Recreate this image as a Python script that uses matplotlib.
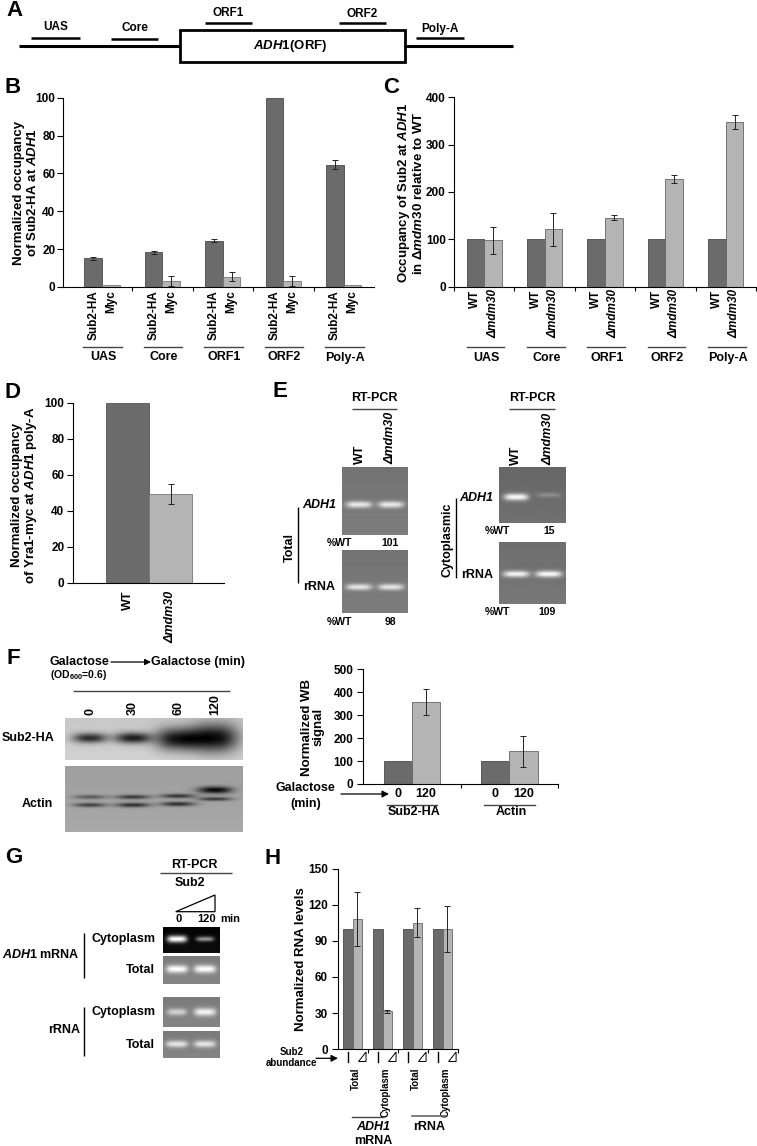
import numpy as np
import matplotlib
matplotlib.use('Agg')
import matplotlib.pyplot as plt
from matplotlib.patches import Polygon, Rectangle
from matplotlib.transforms import blended_transform_factory as blend

plt.rcParams['font.family'] = ['Liberation Sans', 'DejaVu Sans']
plt.rcParams['font.weight'] = 'bold'
plt.rcParams['mathtext.fontset'] = 'custom'
plt.rcParams['mathtext.it'] = 'Liberation Sans:italic:bold'
plt.rcParams['mathtext.rm'] = 'Liberation Sans:bold'
plt.rcParams['mathtext.bf'] = 'Liberation Sans:bold'
plt.rcParams['axes.linewidth'] = 0.8

# ---------------- data ----------------
regions = ['UAS', 'Core', 'ORF1', 'ORF2', 'Poly-A']
b_sub2 = [15.3, 18.3, 24.5, 100, 64.6]
b_sub2_err = [0.8, 0.7, 0.6, 0, 2.3]
b_myc = [0.8, 3.2, 5.4, 3.2, 0.8]
b_myc_err = [0, 2.5, 2.4, 2.5, 0]
b_ticks = [0, 20, 40, 60, 80, 100]

c_wt = [100, 100, 100, 100, 100]
c_mdm30 = [98, 121, 146, 228, 348]
c_mdm30_err = [29, 34, 6, 8, 15]
c_ticks = [0, 100, 200, 300, 400]

d_strains = ['WT', '\u0394mdm30']
d_values = [100, 49.2]
d_err = [0, 5.5]
d_ticks = [0, 20, 40, 60, 80, 100]

e_total_pct = ['101', '98']
e_cyto_pct = ['15', '109']

f_lanes = ['0', '30', '60', '120']
f_groups = ['Sub2-HA', 'Actin']
f_t0 = [100, 100]
f_t120 = [358, 143]
f_t120_err = [56, 67]
f_ticks = [0, 100, 200, 300, 400, 500]

h_labels = ['Total', 'Cytoplasm', 'Total', 'Cytoplasm']
h_low = [100, 100, 100, 100]
h_high = [108, 31.5, 105, 99.5]
h_high_err = [22.5, 1.5, 12, 19]
h_ticks = [0, 30, 60, 90, 120, 150]

# ---------------- figure ----------------
W, H = 757, 1146
fig = plt.figure(figsize=(W / 100, H / 100), dpi=100)
DARK, LIGHT, EDGE = '#6b6b6b', '#b4b4b4', '#4a4a4a'
FS = 8.5


def rect(x0, y0, x1, y1):
    return [x0 / W, 1 - y1 / H, (x1 - x0) / W, (y1 - y0) / H]


ov = fig.add_axes([0, 0, 1, 1], zorder=10)
ov.set_xlim(0, W)
ov.set_ylim(H, 0)
ov.axis('off')
ov.patch.set_alpha(0)


def T(x, y, s, size=9, ha='center', va='center', **kw):
    return ov.text(x, y, s, fontsize=size, ha=ha, va=va, fontweight='bold', **kw)


def L(x0, y0, x1, y1, lw=1.0, color='k', **kw):
    ov.plot([x0, x1], [y0, y1], color=color, lw=lw, solid_capstyle='butt', **kw)


def letter(x, y, s):
    ov.text(x, y, s, fontsize=16, fontweight='bold', ha='left', va='top')


def base_axes(r, ylim, ticks, tlen=4, pad=2):
    ax = fig.add_axes(rect(*r))
    ax.set_ylim(*ylim)
    ax.set_yticks(ticks)
    ax.tick_params(axis='y', direction='out', length=tlen, width=0.8, pad=pad, labelsize=FS)
    for s in ['top', 'right']:
        ax.spines[s].set_visible(False)
    ax.patch.set_alpha(0)
    return ax


def err(ax, x, v, e):
    x = np.asarray(x, float); v = np.asarray(v, float); e = np.asarray(e, float)
    m = e > 0
    ax.errorbar(x[m], v[m], yerr=e[m], fmt='none', ecolor='#222222', elinewidth=0.7,
                capsize=2.5, capthick=0.7)


# ---------------- A: schematic ----------------
letter(6, 0, 'A')
L(19, 45.7, 180, 45.7, lw=2.2)
L(404, 45.7, 513, 45.7, lw=2.2)
ov.add_patch(Rectangle((180, 29.5), 224.5, 32, fill=False, lw=2.0, ec='k'))
T(290, 46, '$\\mathit{ADH1}$(ORF)', size=9.5)
probes = [('UAS', 31.4, 79.7, 38, 26.7), ('Core', 111, 158, 38.7, 28.3),
          ('ORF1', 204.7, 252, 22.7, 12.7), ('ORF2', 339, 386, 23.3, 14),
          ('Poly-A', 416, 463.5, 38.3, 29.3)]
for name, x0, x1, yl, yt in probes:
    L(x0, yl, x1, yl, lw=1.8)
    T((x0 + x1) / 2, yt, name, size=8.5)

# ---------------- B ----------------
letter(5, 77, 'B')
axB = base_axes((63, 97.7, 374, 287), (0, 100), b_ticks, tlen=4, pad=1.5)
xb = np.arange(len(regions))
bw = 0.29
axB.bar(xb - bw / 2, b_sub2, bw, color=DARK, edgecolor=EDGE, lw=0.6)
axB.bar(xb + bw / 2, b_myc, bw, color=LIGHT, edgecolor='#777777', lw=0.6)
err(axB, xb - bw / 2, b_sub2, b_sub2_err)
err(axB, xb + bw / 2, b_myc, b_myc_err)
axB.set_xlim(-0.645, 4.5)
axB.set_xticks(xb[:-1] + 0.5)
axB.set_xticklabels([])
axB.tick_params(axis='x', which='major', length=3, direction='out', width=0.8)
axB.set_xticks(np.r_[xb - bw / 2, xb + bw / 2], minor=True)
axB.set_xticklabels(['Sub2-HA'] * 5 + ['Myc'] * 5, minor=True, rotation=90, fontsize=FS)
axB.tick_params(axis='x', which='minor', length=0, pad=2)
trB = blend(axB.transData, ov.transData)
for i, name in enumerate(regions):
    ov.plot([i - 0.31, i + 0.33], [347, 347], color='#444444', lw=1.0, transform=trB)
    ov.text(i + 0.02, 357.5, name, fontsize=9, ha='center', va='center', fontweight='bold', transform=trB)
T(26, 193, 'Normalized occupancy\nof Sub2-HA at $\\mathit{ADH1}$', size=9.5, rotation=90, linespacing=1.0)

# ---------------- C ----------------
letter(383, 77, 'C')
axC = base_axes((454, 97.3, 756, 286.7), (0, 400), c_ticks, tlen=4, pad=2)
xc = np.arange(len(regions))
axC.bar(xc - bw / 2, c_wt, bw, color=DARK, edgecolor=EDGE, lw=0.6)
axC.bar(xc + bw / 2, c_mdm30, bw, color=LIGHT, edgecolor='#666666', lw=0.6)
err(axC, xc + bw / 2, c_mdm30, c_mdm30_err)
axC.set_xlim(-0.5, 4.5)
axC.set_xticks(np.arange(-0.5, 5, 1.0))
axC.set_xticklabels([])
axC.tick_params(axis='x', which='major', length=3, direction='out', width=0.8)
axC.set_xticks(np.r_[xc - bw / 2, xc + bw / 2], minor=True)
axC.set_xticklabels(['WT'] * 5 + ['\u0394mdm30'] * 5, minor=True, rotation=90, fontsize=FS)
for lab in axC.get_xticklabels(minor=True)[5:]:
    lab.set_fontstyle('italic')
axC.tick_params(axis='x', which='minor', length=0, pad=2)
trC = blend(axC.transData, ov.transData)
for i, name in enumerate(regions):
    ov.plot([i - 0.29, i + 0.33], [347, 347], color='#444444', lw=1.0, transform=trC)
    ov.text(i + 0.03, 358, name, fontsize=9, ha='center', va='center', fontweight='bold', transform=trC)
T(411, 193, 'Occupancy of Sub2 at $\\mathit{ADH1}$\nin $\\mathit{\u0394mdm30}$ relative to WT',
  size=9.5, rotation=90, linespacing=1.0)

# ---------------- D ----------------
letter(5, 382, 'D')
axD = base_axes((72.7, 402.7, 224.3, 582.7), (0, 100), d_ticks, tlen=4, pad=2)
xd = np.arange(len(d_strains))
axD.bar(xd, d_values, 1.0, color=[DARK, LIGHT], edgecolor=['#555555', '#777777'], lw=0.6)
err(axD, xd, d_values, d_err)
axD.set_xlim(-1.28, 2.25)
axD.set_xticks(xd)
axD.set_xticklabels(d_strains, rotation=90, fontsize=9)
axD.get_xticklabels()[1].set_fontstyle('italic')
axD.tick_params(axis='x', length=0, pad=6)
T(25, 495, 'Normalized occupancy\nof Yra1-myc at $\\mathit{ADH1}$ poly-A', size=9.5, rotation=90, linespacing=1.0)


# ---------------- gel / blot images ----------------
def band_image(w, h, bg, bands, sign=1.0, p=4):
    yy, xx = np.mgrid[0:h, 0:w] + 0.5
    img = np.full((h, w), bg, float)
    img += 0.04 * (yy / h - 0.5)
    for cx, cy, hw, hh, a in bands:
        img += sign * a * np.exp(-np.abs((xx - cx) / hw) ** p) * np.exp(-((yy - cy) / hh) ** 2)
    return np.clip(img, 0, 1)


def show_img(r, img):
    ax = fig.add_axes(rect(*r))
    ax.imshow(img, cmap='gray', vmin=0, vmax=1, aspect='auto', interpolation='bilinear')
    ax.axis('off')
    return ax


# ---------------- E ----------------
letter(273, 381, 'E')
e_boxes = {
    'tot_adh1': (341.5, 466.7, 407, 535),
    'tot_rrna': (341.5, 550, 407, 613),
    'cyt_adh1': (499, 467.3, 565, 523.3),
    'cyt_rrna': (499, 542.3, 565, 604),
}
r = e_boxes['tot_adh1']
show_img(r, band_image(66, 68, 0.47, [(17, 38, 13, 3.2, 0.45), (49, 38, 13, 3.2, 0.45)]))
r = e_boxes['tot_rrna']
show_img(r, band_image(66, 63, 0.47, [(17, 37, 13, 3.2, 0.42), (49, 37, 13, 3.2, 0.42)]))
r = e_boxes['cyt_adh1']
show_img(r, band_image(66, 56, 0.42, [(17, 30, 12, 3.5, 0.55), (49, 28, 12, 2.5, 0.13)]))
r = e_boxes['cyt_rrna']
show_img(r, band_image(66, 62, 0.45, [(17, 32, 13, 3.2, 0.5), (49, 32, 13, 3.2, 0.52)]))

for cx, x0, x1 in [(374, 352, 397), (532, 509, 555)]:
    T(cx, 398, 'RT-PCR', size=9)
    L(x0, 409, x1, 409, lw=1.0, color='#444444')
T(360, 464, 'WT', size=9, rotation=90, va='bottom')
T(390, 464, '\u0394mdm30', size=9, rotation=90, va='bottom', fontstyle='italic')
T(516, 465, 'WT', size=9, rotation=90, va='bottom')
T(548, 465, '\u0394mdm30', size=9, rotation=90, va='bottom', fontstyle='italic')

T(302, 505, 'ADH1', size=9, ha='left', fontstyle='italic')
T(303, 586.7, 'rRNA', size=9, ha='left')
L(298.3, 507, 298.3, 583, lw=1.0)
T(290, 547, 'Total', size=9, rotation=90)
T(339, 542.7, '%WT', size=7.5)
T(390, 542.7, e_total_pct[0], size=7.5)
T(339, 621.7, '%WT', size=7.5)
T(390, 621.7, e_total_pct[1], size=7.5)

T(459, 498.3, 'ADH1', size=9, ha='left', fontstyle='italic')
T(461, 575, 'rRNA', size=9, ha='left')
L(455.5, 498, 455.5, 578, lw=1.0)
T(448, 540, 'Cytoplasmic', size=9, rotation=90)
T(497, 531, '%WT', size=7.5)
T(549, 531, e_cyto_pct[0], size=7.5)
T(497, 611.7, '%WT', size=7.5)
T(547, 611.7, e_cyto_pct[1], size=7.5)

# ---------------- F (blots) ----------------
letter(7, 648, 'F')
T(50, 661.7, 'Galactose', size=9, ha='left')
ov.annotate('', xy=(151, 662), xytext=(111, 662),
            arrowprops=dict(arrowstyle='-|>', color='k', lw=0.9, mutation_scale=9, shrinkA=0, shrinkB=0))
T(151, 661.7, 'Galactose (min)', size=9, ha='left')
T(50, 675, '(OD$_{600}$=0.6)', size=7.5, ha='left')
L(73, 691, 230, 691, lw=1.0, color='#444444')
for lab, x in zip(f_lanes, [90, 133, 178, 215]):
    T(x, 715, lab, size=9, rotation=90, va='bottom')
sub2_bands = [(25, 20, 17, 5.0, 0.62), (68, 20, 18, 5.5, 0.68), (113, 21, 22, 11, 0.72),
              (150, 20, 23, 14, 0.75)]
show_img((65, 718, 243, 760), band_image(178, 42, 0.8, sub2_bands, sign=-1, p=2.5))
actin_bands = [(25, 31, 16, 2.2, 0.28), (25, 39, 16, 2.2, 0.38),
               (68, 31, 17, 2.2, 0.4), (68, 39, 17, 2.3, 0.45),
               (113, 30, 17, 2.2, 0.42), (113, 38, 17, 2.3, 0.45),
               (150, 24, 17, 3.5, 0.6), (150, 33, 17, 2.0, 0.4)]
show_img((65, 766, 243, 832), band_image(178, 66, 0.64, actin_bands, sign=-1, p=2.5))
T(28, 738, 'Sub2-HA', size=9)
T(37, 804, 'Actin', size=9)

# ---------------- F (chart) ----------------
axF = base_axes((363.3, 669.3, 558, 784), (0, 500), f_ticks, tlen=4, pad=3)
xf = np.arange(len(f_groups))
bwf = 0.29
axF.bar(xf - bwf / 2, f_t0, bwf, color=DARK, edgecolor=EDGE, lw=0.6)
axF.bar(xf + bwf / 2, f_t120, bwf, color=LIGHT, edgecolor='#666666', lw=0.6)
err(axF, xf + bwf / 2, f_t120, f_t120_err)
axF.set_xlim(-0.5, 1.5)
axF.set_xticks([0.5, 1.5])
axF.set_xticklabels([])
axF.tick_params(axis='x', which='major', length=3, direction='out', width=0.8)
axF.set_xticks(np.r_[xf - bwf / 2, xf + bwf / 2], minor=True)
axF.set_xticklabels(['0'] * 2 + ['120'] * 2, minor=True, fontsize=9)
axF.tick_params(axis='x', which='minor', length=0, pad=3)
trF = blend(axF.transData, ov.transData)
for i, name in enumerate(f_groups):
    ov.plot([i - 0.26, i + 0.26], [805, 805], color='#444444', lw=1.0, transform=trF)
    ov.text(i + 0.02, 812, name, fontsize=9, ha='center', va='center', fontweight='bold', transform=trF)
T(305, 787.7, 'Galactose', size=9)
T(306, 804, '(min)', size=9)
ov.annotate('', xy=(389, 794), xytext=(341, 794),
            arrowprops=dict(arrowstyle='-|>', color='k', lw=0.9, mutation_scale=10, shrinkA=0, shrinkB=0))
T(313, 727, 'Normalized WB\nsignal', size=9.5, rotation=90, linespacing=1.0)

# ---------------- G ----------------
letter(5, 847, 'G')
T(194, 865, 'RT-PCR', size=9)
L(160, 873.3, 232, 873.3, lw=1.0, color='#444444')
T(190, 883, 'Sub2', size=9)
ov.add_patch(Polygon([(175.7, 911.7), (215, 895), (215, 911.7)], closed=True, fill=False, ec='k', lw=0.9))
T(178.3, 919.3, '0', size=8)
T(206.7, 919.3, '120', size=8)
T(230, 919.3, 'min', size=8)
show_img((163, 926.7, 220, 952.7), band_image(57, 26, 0.03, [(14, 12, 10, 3.5, 0.97), (42, 12, 9, 2.5, 0.55)]))
show_img((163, 955.7, 220, 984.3), band_image(57, 29, 0.5, [(14, 14, 11, 4.0, 0.5), (42, 14, 11, 4.0, 0.5)]))
show_img((163, 996.7, 220, 1026.7), band_image(57, 30, 0.5, [(14, 15, 10, 3.5, 0.32), (42, 15, 11, 4.0, 0.45)]))
show_img((163, 1030.7, 220, 1058.3), band_image(57, 28, 0.5, [(14, 14, 11, 3.5, 0.4), (42, 14, 11, 3.5, 0.4)]))
T(155, 939.3, 'Cytoplasm', size=9, ha='right')
T(155, 970, 'Total', size=9, ha='right')
T(155, 1011.7, 'Cytoplasm', size=9, ha='right')
T(155, 1045, 'Total', size=9, ha='right')
L(84.3, 933, 84.3, 978, lw=1.0)
L(84.3, 1007, 84.3, 1055.7, lw=1.0)
T(80, 955, '$\\mathit{ADH1}$ mRNA', size=9, ha='right')
T(80, 1030, 'rRNA', size=9, ha='right')

# ---------------- H ----------------
letter(264, 848, 'H')
axH = base_axes((337.5, 868.5, 457.6, 1049.3), (0, 150), h_ticks, tlen=4, pad=3)
xh = np.arange(len(h_labels))
bwh = 0.315
axH.bar(xh - bwh / 2, h_low, bwh, color=DARK, edgecolor=EDGE, lw=0.6)
axH.bar(xh + bwh / 2, h_high, bwh, color=LIGHT, edgecolor='#666666', lw=0.6)
err(axH, xh + bwh / 2, h_high, h_high_err)
axH.set_xlim(-0.5, 3.5)
axH.set_xticks(np.arange(0.5, 4, 1.0))
axH.set_xticklabels([])
axH.tick_params(axis='x', which='major', length=3, direction='out', width=0.8)
axH.set_xticks(xh + 0.1, minor=True)
axH.set_xticklabels(h_labels, minor=True, rotation=90, fontsize=7)
axH.tick_params(axis='x', which='minor', length=0, pad=13)
trH = blend(axH.transData, ov.transData)
for i in range(len(h_labels)):
    ov.plot([i - 0.15, i - 0.15], [1052, 1062], color='k', lw=1.0, transform=trH)
    ov.add_patch(Polygon([(i + 0.2, 1061.5), (i + 0.45, 1061.5), (i + 0.45, 1052)], closed=True,
                         fill=False, ec='k', lw=0.7, transform=trH))
ov.plot([-0.03, 1.02], [1117.3, 1117.3], color='#444444', lw=1.0, transform=trH)
ov.plot([1.97, 3.09], [1115.7, 1115.7], color='#666666', lw=1.2, transform=trH)
ov.text(0.7, 1126.7, 'ADH1', fontsize=9, fontstyle='italic', fontweight='bold', ha='center', va='center', transform=trH)
ov.text(0.7, 1140.5, 'mRNA', fontsize=9, fontweight='bold', ha='center', va='center', transform=trH)
ov.text(2.55, 1126.7, 'rRNA', fontsize=9, fontweight='bold', ha='center', va='center', transform=trH)
T(292, 1051.7, 'Sub2', size=7)
T(292, 1063.3, 'abundance', size=7)
ov.annotate('', xy=(338, 1058.3), xytext=(316, 1058.3),
            arrowprops=dict(arrowstyle='-|>', color='k', lw=0.9, mutation_scale=10, shrinkA=0, shrinkB=0))
T(301, 959, 'Normalized RNA levels', size=9.5, rotation=90)

fig.savefig('out.png', dpi=100)
